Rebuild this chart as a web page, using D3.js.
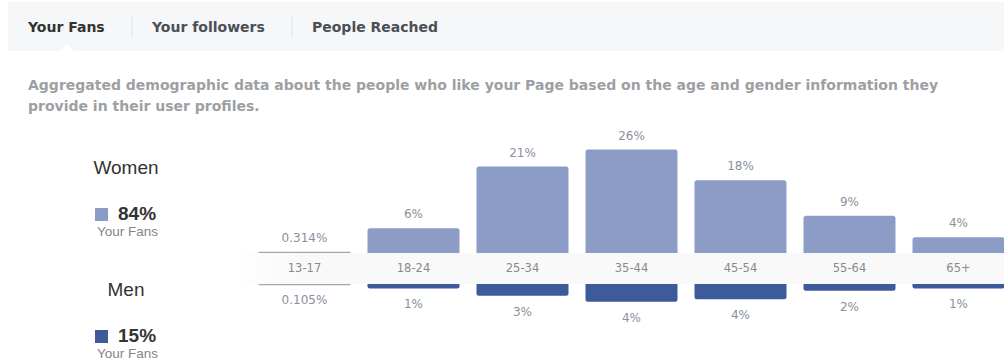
<!DOCTYPE html>
<html>
<head>
<meta charset="utf-8">
<title>Your Fans - age and gender</title>
<script src="https://d3js.org/d3.v7.min.js"></script>
<style>
body { margin: 0; background: #fff; }
svg { display: block; }
</style>
</head>
<body>
<div id="chart"></div>
<script>

// data
var tabs = ["Your Fans", "Your followers", "People Reached"];
var ageGroups = ["13-17", "18-24", "25-34", "35-44", "45-54", "55-64", "65+"];
var women = [0.314, 6.1, 21.4, 25.6, 18.0, 9.2, 3.9];
var men = [0.105, 1.1, 2.9, 4.4, 3.8, 1.7, 1.1];
var genders = ["Women", "Men"];
var genderTotals = [84, 15];

var width = 1004;
var height = 363;

var womenColor = "#8c9cc7";
var menColor = "#3d5b9b";
var tinyColor = "#a4a6aa"; // bars under 1% show as a grey hairline

var svg = d3.select("#chart")
  .append("svg")
    .attr("width", width)
    .attr("height", height);

// header strip with tabs
svg.append("rect")
  .attr("x", 8).attr("y", 2)
  .attr("width", width - 8).attr("height", 49)
  .attr("fill", "#f6f7f9");

svg.append("path")
  .attr("d", "M60,51 L67,44 L74,51 Z")
  .attr("fill", "#fff");

var tabX = [28, 152, 312];
svg.selectAll(".tab")
  .data(tabs)
  .enter()
  .append("text")
    .attr("class", "tab")
    .attr("x", function(d, i) { return tabX[i]; })
    .attr("y", 32)
    .text(function(d) { return d; })
    .style("font-family", "DejaVu Sans")
    .style("font-weight", "bold")
    .style("font-size", "14px")
    .attr("fill", function(d, i) { return i == 0 ? "#333" : "#4b4f56"; });

[132, 292].forEach(function(x) {
  svg.append("line")
    .attr("x1", x).attr("x2", x)
    .attr("y1", 16).attr("y2", 38)
    .attr("stroke", "#e4e5e8");
});

var desc = [
  "Aggregated demographic data about the people who like your Page based on the age and gender information they",
  "provide in their user profiles."
];
svg.selectAll(".desc")
  .data(desc)
  .enter()
  .append("text")
    .attr("class", "desc")
    .attr("x", 28)
    .attr("y", function(d, i) { return 90 + i * 21; })
    .text(function(d) { return d; })
    .style("font-family", "DejaVu Sans")
    .style("font-weight", "bold")
    .style("font-size", "14px")
    .attr("fill", "#9d9fa3");

// legend on the left
var legendY = [167, 289];
var legendColor = [womenColor, menColor];
genders.forEach(function(g, i) {
  var y0 = legendY[i];
  svg.append("text")
    .attr("x", 126).attr("y", y0 + 7)
    .attr("text-anchor", "middle")
    .text(g)
    .style("font-family", "Liberation Sans, Arial")
    .style("font-size", "19px")
    .attr("fill", "#333");
  svg.append("rect")
    .attr("x", 95).attr("y", y0 + 41)
    .attr("width", 13).attr("height", 13)
    .attr("fill", legendColor[i]);
  svg.append("text")
    .attr("x", 118).attr("y", y0 + 53)
    .text(genderTotals[i] + "%")
    .style("font-family", "Liberation Sans, Arial")
    .style("font-weight", "bold")
    .style("font-size", "19px")
    .attr("fill", "#333");
  svg.append("text")
    .attr("x", 97).attr("y", y0 + 69)
    .text("Your Fans")
    .style("font-family", "Liberation Sans, Arial")
    .style("font-size", "13.5px")
    .attr("fill", "#858585");
});

// bar chart
var x = d3.scaleBand()
  .domain(ageGroups)
  .range([250, 1013])
  .paddingInner(0.156)
  .paddingOuter(0.078);

var h = d3.scaleLinear()
  .domain([0, 26])
  .range([0, 105]);

var womenBase = 253;
var menBase = 284;

// light strip behind the age labels
var grad = svg.append("defs").append("linearGradient")
  .attr("id", "strip")
  .attr("x1", "0").attr("x2", "1");
grad.append("stop").attr("offset", "0").attr("stop-color", "#fff");
grad.append("stop").attr("offset", "0.08").attr("stop-color", "#f9f9fa");
grad.append("stop").attr("offset", "1").attr("stop-color", "#f9f9fa");

svg.append("rect")
  .attr("x", 235).attr("y", womenBase)
  .attr("width", width - 235).attr("height", menBase - womenBase)
  .attr("fill", "url(#strip)");

function barPath(x0, w, base, len, dir) {
  // rounded corners on the outer end
  var r = Math.min(2.5, len / 2);
  var end = base + dir * len;
  return "M" + x0 + "," + base +
    " L" + x0 + "," + (end - dir * r) +
    " Q" + x0 + "," + end + " " + (x0 + r) + "," + end +
    " L" + (x0 + w - r) + "," + end +
    " Q" + (x0 + w) + "," + end + " " + (x0 + w) + "," + (end - dir * r) +
    " L" + (x0 + w) + "," + base + " Z";
}

function fmt(v) {
  return v < 1 ? v + "%" : Math.round(v) + "%";
}

var labelFont = "DejaVu Sans";

svg.selectAll(".women")
  .data(women)
  .enter()
  .append("path")
    .attr("class", "women")
    .attr("d", function(d, i) { return barPath(x(ageGroups[i]), x.bandwidth(), womenBase, Math.max(h(d), 1.2), -1); })
    .attr("fill", function(d) { return d < 1 ? tinyColor : womenColor; });

svg.selectAll(".men")
  .data(men)
  .enter()
  .append("path")
    .attr("class", "men")
    .attr("d", function(d, i) { return barPath(x(ageGroups[i]), x.bandwidth(), menBase, Math.max(h(d), 1.2), 1); })
    .attr("fill", function(d) { return d < 1 ? tinyColor : menColor; });

svg.selectAll(".wlabel")
  .data(women)
  .enter()
  .append("text")
    .attr("class", "wlabel")
    .attr("x", function(d, i) { return x(ageGroups[i]) + x.bandwidth() / 2; })
    .attr("y", function(d) { return womenBase - h(d) - 10; })
    .attr("text-anchor", "middle")
    .text(fmt)
    .style("font-family", labelFont)
    .style("font-size", "12px")
    .attr("fill", "#8a909c");

svg.selectAll(".mlabel")
  .data(men)
  .enter()
  .append("text")
    .attr("class", "mlabel")
    .attr("x", function(d, i) { return x(ageGroups[i]) + x.bandwidth() / 2; })
    .attr("y", function(d) { return menBase + h(d) + 20; })
    .attr("text-anchor", "middle")
    .text(fmt)
    .style("font-family", labelFont)
    .style("font-size", "12px")
    .attr("fill", "#8a909c");

svg.selectAll(".age")
  .data(ageGroups)
  .enter()
  .append("text")
    .attr("class", "age")
    .attr("x", function(d) { return x(d) + x.bandwidth() / 2; })
    .attr("y", 272)
    .attr("text-anchor", "middle")
    .text(function(d) { return d; })
    .style("font-family", labelFont)
    .style("font-size", "11.5px")
    .attr("fill", "#8a8a8a");

</script>
</body>
</html>
